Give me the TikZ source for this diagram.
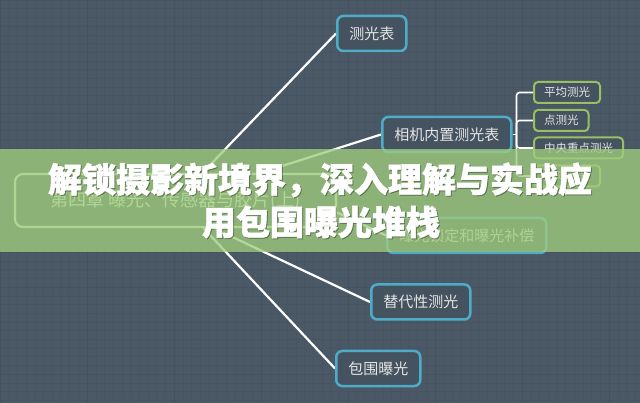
\documentclass[tikz,border=0pt]{standalone}
\usepackage{fontspec}
\newfontfamily\cjk{Noto Sans CJK SC}
\newfontfamily\cjkheavy{Noto Sans CJK SC}[BoldFeatures={FakeBold=1.6}]
\usetikzlibrary{positioning, calc, backgrounds}
\definecolor{boardcolor}{RGB}{75, 89, 103}
\definecolor{gridcolor}{RGB}{69, 82, 95}
\definecolor{topiccolor}{RGB}{78, 172, 198}
\definecolor{subcolor}{RGB}{152, 192, 98}
\definecolor{rootcolor}{RGB}{236, 252, 224}
\definecolor{bandcolor}{RGB}{160, 204, 126}

\begin{document}
\begin{tikzpicture}[
    x=1pt, y=-1pt,
    font=\cjk,
    topic/.style={rectangle, rounded corners=6pt, draw=topiccolor, line width=2.5pt, fill=boardcolor!92!black, text=white!90!black, font=\cjk\fontsize{15}{15}\selectfont, inner xsep=12pt, minimum height=35pt, anchor=west},
    subtopic/.style={rectangle, rounded corners=4pt, draw=subcolor, line width=2pt, fill=boardcolor!92!black, text=white!90!black, font=\cjk\fontsize{11.5}{11.5}\selectfont, inner xsep=10pt, minimum height=21pt, anchor=west},
    root/.style={rectangle, rounded corners=8pt, draw=rootcolor, line width=2.2pt, fill=boardcolor, text=rootcolor, font=\cjk\fontsize{18}{18}\selectfont, minimum width=321pt, minimum height=53pt},
    branch/.style={white, line width=2.2pt},
    twig/.style={white, line width=1.6pt, rounded corners=3pt},
    headline/.style={font=\cjkheavy\bfseries\fontsize{34}{34}\selectfont}
]
\useasboundingbox (0,0) rectangle (640,403);

% Central topic
\node[root] (ch) at (175.5, 200.5) {第四章 曝光、传感器与胶片(上)};

% Main topics
\node[topic] (meter) at (336, 33.5) {测光表};
\node[topic] (cam) at (381, 134.5) {相机内置测光表};
\node[topic] (lock) at (386, 235.5) {曝光锁定和曝光补偿};
\node[topic] (alt) at (370, 302) {替代性测光};
\node[topic] (brk) at (335, 368.5) {包围曝光};

% Metering modes
\node[subtopic] (avg) at (533, 92.5) {平均测光};
\node[subtopic] (spot) at (533, 120.5) {点测光};
\node[subtopic] (cw) at (533, 148) {中央重点测光};
\node[subtopic] (matrix) at (533, 176) {矩阵测光};

\begin{scope}[on background layer]
% Board with grid
\fill[boardcolor] (0,0) rectangle (640,403);
\draw[gridcolor!60!boardcolor, line width=0.4pt, step=8.7pt] (0,0) grid (640,403);
\foreach \gx in {0, 87, 174, 261, 348, 435, 522, 609}
    \draw[gridcolor, line width=0.7pt] (\gx, 0) -- (\gx, 403);
\foreach \gy in {26, 113, 200, 287, 374}
    \draw[gridcolor, line width=0.7pt] (0, \gy) -- (640, \gy);

% Branches from the central topic
\coordinate (topA) at ([xshift=27pt]ch.north);
\coordinate (topB) at ([xshift=85pt]ch.north);
\coordinate (botA) at ([xshift=28pt]ch.south);
\coordinate (botB) at ([xshift=38pt]ch.south);
\draw[branch] (topA) -- (meter.west);
\draw[branch] (topB) -- (cam.west);
\draw[branch] ([yshift=-12pt]ch.east) -- (lock.west);
\draw[branch] (botB) -- (alt.west);
\draw[branch] (botA) -- (brk.west);

% Bracket to metering modes
\draw[twig] (cam.east) -- ++(4pt, 0) coordinate (fork);
\foreach \m in {avg, spot, cw, matrix}
    \draw[twig] (fork) |- (\m.west);
\end{scope}

% Title band
\fill[bandcolor, opacity=0.78] (0,149) rectangle (640,252);
\node[headline, text=black, opacity=0.25] at (321, 181) {解锁摄影新境界，深入理解与实战应};
\node[headline, text=black, opacity=0.25] at (322, 223) {用包围曝光堆栈};
\node[headline, text=white] (title1) at (320, 180) {解锁摄影新境界，深入理解与实战应};
\node[headline, text=white] (title2) at (321, 222) {用包围曝光堆栈};

\end{tikzpicture}
\end{document}
